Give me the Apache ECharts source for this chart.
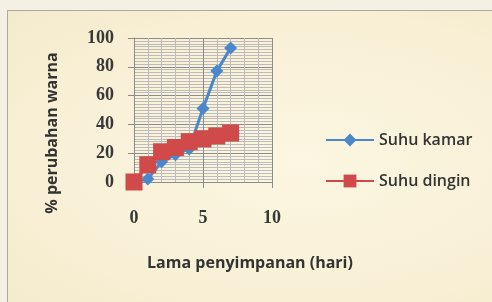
<!DOCTYPE html>
<html>
<head>
<meta charset="utf-8">
<script src="https://cdn.jsdelivr.net/npm/echarts@6/dist/echarts.min.js"></script>
<style>
  html, body { margin: 0; padding: 0; }
  body {
    width: 492px; height: 302px; overflow: hidden;
    background: #f4f0e4;
  }
  .frame {
    position: absolute; left: 7px; top: 10px; width: 490px; height: 300px;
    border-left: 1px solid #a9a9a9; border-top: 1px solid #a9a9a9;
    background: radial-gradient(ellipse at 60% 50%, #fcf6e2 0%, #f8efd4 70%, #f4eacc 100%);
  }
  #chart { position: absolute; left: 0; top: 0; width: 492px; height: 302px; }
</style>
</head>
<body>
<div class="frame"></div>
<div id="chart"></div>
<script>
// lama penyimpanan (hari)
const days = [0, 1, 2, 3, 4, 5, 6, 7];
// % perubahan warna
const suhuKamar = [0, 2, 14, 19, 23, 51, 77, 93];
const suhuDingin = [0, 12, 21, 24, 28, 30, 32, 34];
const seriesNames = ['Suhu kamar', 'Suhu dingin'];
const xTitle = 'Lama penyimpanan (hari)';
const yTitle = '% perubahan warna';

const chart = echarts.init(document.getElementById('chart'));

const labelFont = { fontFamily: 'Liberation Serif', fontWeight: 'bold', fontSize: 18, color: '#383838' };
const titleFont = 'bold 16px "Open Sans"';

chart.setOption({
  animation: false,
  grid: { left: 134, right: 220, top: 38, bottom: 120 },
  legend: {
    orient: 'vertical',
    left: 320,
    top: 127,
    itemGap: 25,
    itemWidth: 48,
    itemHeight: 16,
    textStyle: { fontFamily: 'Open Sans', fontWeight: 600, fontSize: 16, color: '#333' },
    data: seriesNames
  },
  graphic: [
    {
      type: 'text', x: 250, y: 263,
      style: { text: xTitle, font: titleFont, fill: '#333', align: 'center', verticalAlign: 'middle' }
    },
    {
      type: 'text', x: 52, y: 133, rotation: Math.PI / 2,
      style: { text: yTitle, font: titleFont, fill: '#333', align: 'center', verticalAlign: 'middle' }
    }
  ],
  xAxis: {
    type: 'value',
    min: 0, max: 10, interval: 5,
    axisLine: { lineStyle: { color: '#8c8c8c' } },
    axisTick: { show: true, length: 6, lineStyle: { color: '#8c8c8c' } },
    axisLabel: Object.assign({ margin: 27 }, labelFont),
    splitLine: { show: true, lineStyle: { color: '#8c8c8c', width: 1 } },
    minorTick: { show: false, splitNumber: 5 },
    minorSplitLine: { show: true, lineStyle: { color: '#bcbcbc' } }
  },
  yAxis: {
    type: 'value',
    min: 0, max: 100, interval: 20,
    axisLine: { show: true, lineStyle: { color: '#8c8c8c' } },
    axisTick: { show: true, length: 6, lineStyle: { color: '#8c8c8c' } },
    axisLabel: Object.assign({ margin: 20 }, labelFont),
    splitLine: { show: true, lineStyle: { color: '#8c8c8c', width: 1 } },
    minorTick: { show: false, splitNumber: 10 },
    minorSplitLine: { show: true, lineStyle: { color: '#bcbcbc' } }
  },
  series: [
    {
      name: seriesNames[0],
      type: 'line',
      data: days.map((d, i) => [d, suhuKamar[i]]),
      symbol: 'diamond',
      symbolSize: 13,
      lineStyle: { color: '#4a87cc', width: 3 },
      itemStyle: { color: '#4a87cc' }
    },
    {
      name: seriesNames[1],
      type: 'line',
      data: days.map((d, i) => [d, suhuDingin[i]]),
      symbol: 'rect',
      symbolSize: 17,
      lineStyle: { color: '#d14a4a', width: 3 },
      itemStyle: { color: '#d14a4a' }
    }
  ]
});
</script>
</body>
</html>
